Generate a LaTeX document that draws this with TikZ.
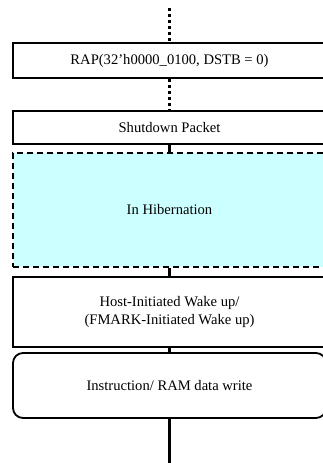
\documentclass[tikz,border=0pt]{standalone}
\usepackage{fontspec}
\setmainfont{Liberation Serif}
\definecolor{hib}{HTML}{CCFFFF}
\begin{document}
\begin{tikzpicture}[x=1pt,y=-1pt,
  box/.style={draw,line width=1.8pt,minimum width=313pt,inner sep=0pt,align=center,
    font=\fontsize{14.6}{18.5}\selectfont},
  conn/.style={line width=3pt},
  dotconn/.style={line width=3pt,dash pattern=on 3pt off 3pt}]
\useasboundingbox (0,0) rectangle (323,463);
\clip (0,0) rectangle (323,463);
\node[box,minimum height=35pt] (rap) at (169.5,60.5) {RAP(32'h0000\_0100, DSTB = 0)};
\node[box,minimum height=33pt] (shut) at (169.5,127.5) {Shutdown Packet};
\node[box,dashed,dash pattern=on 6pt off 4pt,fill=hib,minimum height=114pt] (hib) at (169.5,210) {In Hibernation};
\node[box,minimum height=70pt] (host) at (169.5,312) {Host-Initiated Wake up/\\(FMARK-Initiated Wake up)};
\node[box,rounded corners=10pt,minimum height=65pt] (instr) at (169.5,385.5) {Instruction/ RAM data write};
\coordinate (top) at (169.5,8);
\coordinate (bot) at (169.5,463);
\draw[dotconn] (top) -- (rap.north);
\draw[dotconn] (rap.south) -- (shut.north);
\draw[conn] (shut.south) -- (hib.north);
\draw[conn] (hib.south) -- (host.north);
\draw[conn] (host.south) -- (instr.north);
\draw[conn] (instr.south) -- (bot);
\end{tikzpicture}
\end{document}
